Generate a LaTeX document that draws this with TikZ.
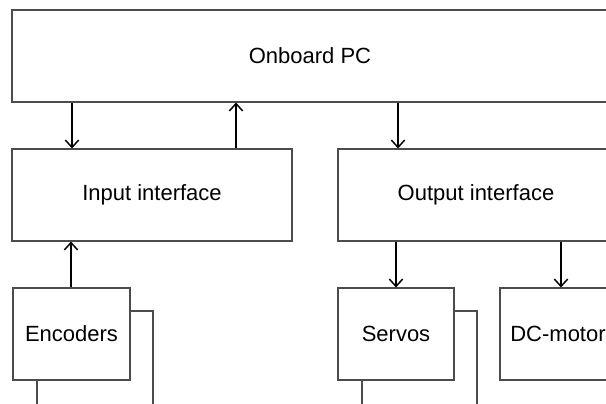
\documentclass[tikz,border=0pt]{standalone}
\usepackage{fontspec}
\setmainfont{Liberation Sans}
\usetikzlibrary{arrows.meta,fit}
\tikzset{
  block/.style={draw=black!70, line width=0.8pt, rectangle, inner sep=0pt},
  sig/.style={-{Straight Barb[length=5.5pt,width=10pt]}, line width=1.1pt},
  wire/.style={draw=black!70, line width=0.8pt}
}
\begin{document}
\begin{tikzpicture}[x=0.75pt, y=-0.75pt, font=\fontsize{16.5}{20}\selectfont]
	\clip (0,0) rectangle (606,403);
	% blocks (the right-hand ones run off the edge)
	\node[block, fit={(12,10) (608,102)}, label=center:Onboard PC] (pc) {};
	\node[block, fit={(12,149) (292,241)}, label=center:Input interface] (inif) {};
	\node[block, fit={(338,149) (614,241)}, label=center:Output interface] (outif) {};
	\node[block, fit={(13,288) (130,380)}, label=center:Encoders] (enc) {};
	\node[block, fit={(338,288) (454,380)}, label=center:Servos] (servo) {};
	\node[block, fit={(500,288) (616,380)}, label=center:DC-motor] (dcm) {};
	% signals
	\draw[sig] (72,0 |- pc.south) -- (72,0 |- inif.north);
	\draw[sig] (236,0 |- inif.north) -- (236,0 |- pc.south);
	\draw[sig] (398,0 |- pc.south) -- (398,0 |- outif.north);
	\draw[sig] (71,0 |- enc.north) -- (71,0 |- inif.south);
	\draw[sig] (servo.north |- outif.south) -- (servo.north);
	\draw[sig] (561,0 |- outif.south) -- (561,0 |- dcm.north);
	% wires leaving at the bottom
	\coordinate (encA) at (153,410);
	\coordinate (encB) at (37,410);
	\coordinate (servoA) at (477,410);
	\coordinate (servoB) at (362,410);
	\draw[wire] (enc.east |- 0,311) -| (encA);
	\draw[wire] (encB |- enc.south) -- (encB);
	\draw[wire] (servo.east |- 0,311) -| (servoA);
	\draw[wire] (servoB |- servo.south) -- (servoB);
\end{tikzpicture}
\end{document}
